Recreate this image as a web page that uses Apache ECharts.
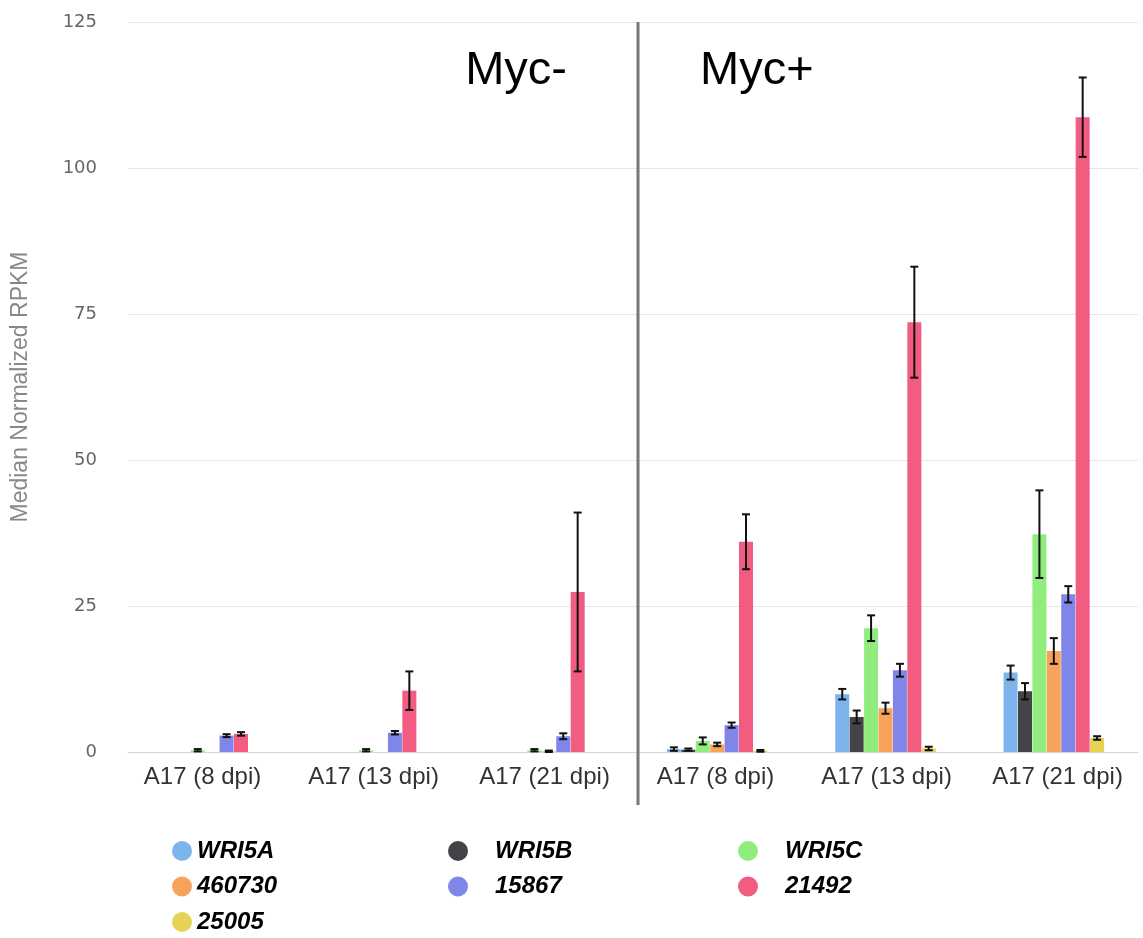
<!DOCTYPE html>
<html>
<head>
<meta charset="utf-8">
<script src="https://cdn.jsdelivr.net/npm/echarts@6/dist/echarts.min.js"></script>
<style>
  html, body { margin: 0; padding: 0; background: #ffffff; }
  #chart { width: 1143px; height: 938px; }
</style>
</head>
<body>
<div id="chart"></div>
<script>
// Time points, first three without Myc, last three with Myc
const categories = ['A17 (8 dpi)', 'A17 (13 dpi)', 'A17 (21 dpi)', 'A17 (8 dpi)', 'A17 (13 dpi)', 'A17 (21 dpi)'];
const panelLabels = ['Myc-', 'Myc+'];

const seriesNames = ['WRI5A', 'WRI5B', 'WRI5C', '460730', '15867', '21492', '25005'];
const seriesColors = ['#7cb5ec', '#434348', '#90ed7d', '#f7a35c', '#8085e9', '#f15c80', '#e4d354'];

// Median normalized RPKM per gene, and the half-width of its error bar
const wri5a      = [0, 0, 0, 0.5, 9.9, 13.6];
const wri5aErr   = [0, 0, 0, 0.3, 0.9, 1.2];
const wri5b      = [0, 0, 0, 0.4, 6.0, 10.4];
const wri5bErr   = [0, 0, 0, 0.2, 1.1, 1.4];
const wri5c      = [0.3, 0.3, 0.3, 1.9, 21.2, 37.3];
const wri5cErr   = [0.2, 0.2, 0.2, 0.6, 2.2, 7.5];
const g460730    = [0, 0, 0.1, 1.3, 7.5, 17.3];
const g460730Err = [0, 0, 0.15, 0.3, 0.95, 2.2];
const g15867     = [2.8, 3.3, 2.7, 4.6, 14.0, 27.0];
const g15867Err  = [0.25, 0.3, 0.5, 0.45, 1.1, 1.4];
const g21492     = [3.1, 10.5, 27.4, 36.0, 73.6, 108.7];
const g21492Err  = [0.3, 3.3, 13.6, 4.7, 9.5, 6.8];
const g25005     = [0, 0, 0, 0.2, 0.6, 2.4];
const g25005Err  = [0, 0, 0, 0.15, 0.3, 0.3];

const yMin = 0, yMax = 125, yStep = 25;

const seriesValues = [wri5a, wri5b, wri5c, g460730, g15867, g21492, g25005];
const seriesErrors = [wri5aErr, wri5bErr, wri5cErr, g460730Err, g15867Err, g21492Err, g25005Err];

const BAR_W = 14;
const BAR_GAP_PX = 0.42;

// Error bar rows: [category index, series index, low, high]
const errorRows = [];
seriesValues.forEach((vals, s) => {
  vals.forEach((v, c) => {
    const e = seriesErrors[s][c];
    if (e > 0) errorRows.push([c, s, Math.max(0, v - e), v + e]);
  });
});

const chart = echarts.init(document.getElementById('chart'), null, { renderer: 'canvas' });

const barSeries = seriesNames.map((name, i) => ({
  name: name,
  type: 'bar',
  data: seriesValues[i],
  barWidth: BAR_W,
  barGap: (BAR_GAP_PX / BAR_W * 100) + '%',
  itemStyle: { color: seriesColors[i] },
  emphasis: { disabled: true },
  z: 2
}));

const errorSeries = {
  type: 'custom',
  name: 'error',
  data: errorRows,
  encode: { x: 0, y: [2, 3] },
  z: 5,
  silent: true,
  renderItem: function (params, api) {
    const c = api.value(0), s = api.value(1);
    const n = seriesNames.length;
    const total = n * BAR_W + (n - 1) * BAR_GAP_PX;
    const cx = api.coord([c, 0])[0] - total / 2 + s * (BAR_W + BAR_GAP_PX) + BAR_W / 2;
    const yLo = api.coord([c, api.value(2)])[1];
    const yHi = api.coord([c, api.value(3)])[1];
    const cap = 4;
    const st = { stroke: '#111', lineWidth: 2 };
    return {
      type: 'group',
      children: [
        { type: 'line', shape: { x1: cx, y1: yHi, x2: cx, y2: yLo }, style: st },
        { type: 'line', shape: { x1: cx - cap, y1: yHi, x2: cx + cap, y2: yHi }, style: st },
        { type: 'line', shape: { x1: cx - cap, y1: yLo, x2: cx + cap, y2: yLo }, style: st }
      ]
    };
  }
};

// Legend laid out in three columns, filled row by row
const legendCols = [0, 1, 2].map(col => seriesNames.filter((_, i) => i % 3 === col));
const legendLefts = [172, 448, 738];
const legendTextGap = [0, 22, 22];
const legendFont = 'Liberation Sans, Arial, sans-serif';

const option = {
  animation: false,
  backgroundColor: '#ffffff',
  grid: [
    { left: 128, right: 5, top: 22, bottom: 186, containLabel: false },
    // category labels sit on a slightly wider band than the bars
    { left: 117, right: -6, top: 22, bottom: 186, containLabel: false }
  ],
  legend: legendCols.map((names, k) => ({
    data: names,
    orient: 'vertical',
    left: legendLefts[k],
    top: 839,
    height: 99,
    padding: 0,
    icon: 'circle',
    itemWidth: 20,
    itemHeight: 20,
    itemGap: 11.5,
    textStyle: {
      fontSize: 24, fontWeight: 'bold', fontStyle: 'italic', color: '#000',
      fontFamily: legendFont, padding: [0, 0, 0, legendTextGap[k]]
    },
    selectedMode: false
  })),
  xAxis: [
    {
      type: 'category',
      gridIndex: 0,
      data: categories,
      axisLine: { lineStyle: { color: '#ccd6eb', width: 1 } },
      axisTick: { show: false },
      axisLabel: { show: false },
      splitLine: { show: false }
    },
    {
      type: 'category',
      gridIndex: 1,
      data: categories,
      axisLine: { show: false },
      axisTick: { show: false },
      axisLabel: {
        color: '#333', fontSize: 24, margin: 13,
        fontFamily: 'Liberation Sans, Arial, sans-serif', interval: 0
      },
      splitLine: { show: false }
    }
  ],
  yAxis: [
    {
      type: 'value',
      gridIndex: 0,
      min: yMin, max: yMax, interval: yStep,
      name: 'Median Normalized RPKM',
      nameLocation: 'middle',
      nameGap: 96,
      nameTextStyle: { color: '#888', fontSize: 23, fontFamily: 'Liberation Sans, Arial, sans-serif' },
      axisLine: { show: false },
      axisTick: { show: false },
      axisLabel: { color: '#666', fontSize: 18, margin: 31, fontFamily: 'DejaVu Sans, sans-serif' },
      splitLine: { lineStyle: { color: '#e6e6e6', width: 1 } }
    },
    {
      type: 'value',
      gridIndex: 1,
      min: yMin, max: yMax, interval: yStep,
      show: false
    }
  ],
  series: barSeries.concat([errorSeries])
};

chart.setOption(option);

// Divider between the two panels and the panel captions
const xLeft = chart.convertToPixel({ xAxisIndex: 0 }, 2);
const xRight = chart.convertToPixel({ xAxisIndex: 0 }, 3);
const divX = Math.round((xLeft + xRight) / 2) + 5;
const yTop = chart.convertToPixel({ yAxisIndex: 0 }, yMax);
const yBase = chart.convertToPixel({ yAxisIndex: 0 }, yMin);

chart.setOption({
  graphic: [
    {
      type: 'line', z: 10,
      shape: { x1: divX, y1: yTop, x2: divX, y2: yBase + 53 },
      style: { stroke: '#777', lineWidth: 3 }
    },
    {
      type: 'text', z: 10,
      style: {
        text: panelLabels[0], x: divX - 71, y: 71, align: 'right', verticalAlign: 'middle',
        fontSize: 47, fill: '#000', fontFamily: 'Liberation Sans, Arial, sans-serif'
      }
    },
    {
      type: 'text', z: 10,
      style: {
        text: panelLabels[1], x: divX + 62, y: 71, align: 'left', verticalAlign: 'middle',
        fontSize: 47, fill: '#000', fontFamily: 'Liberation Sans, Arial, sans-serif'
      }
    }
  ]
});
</script>
</body>
</html>
